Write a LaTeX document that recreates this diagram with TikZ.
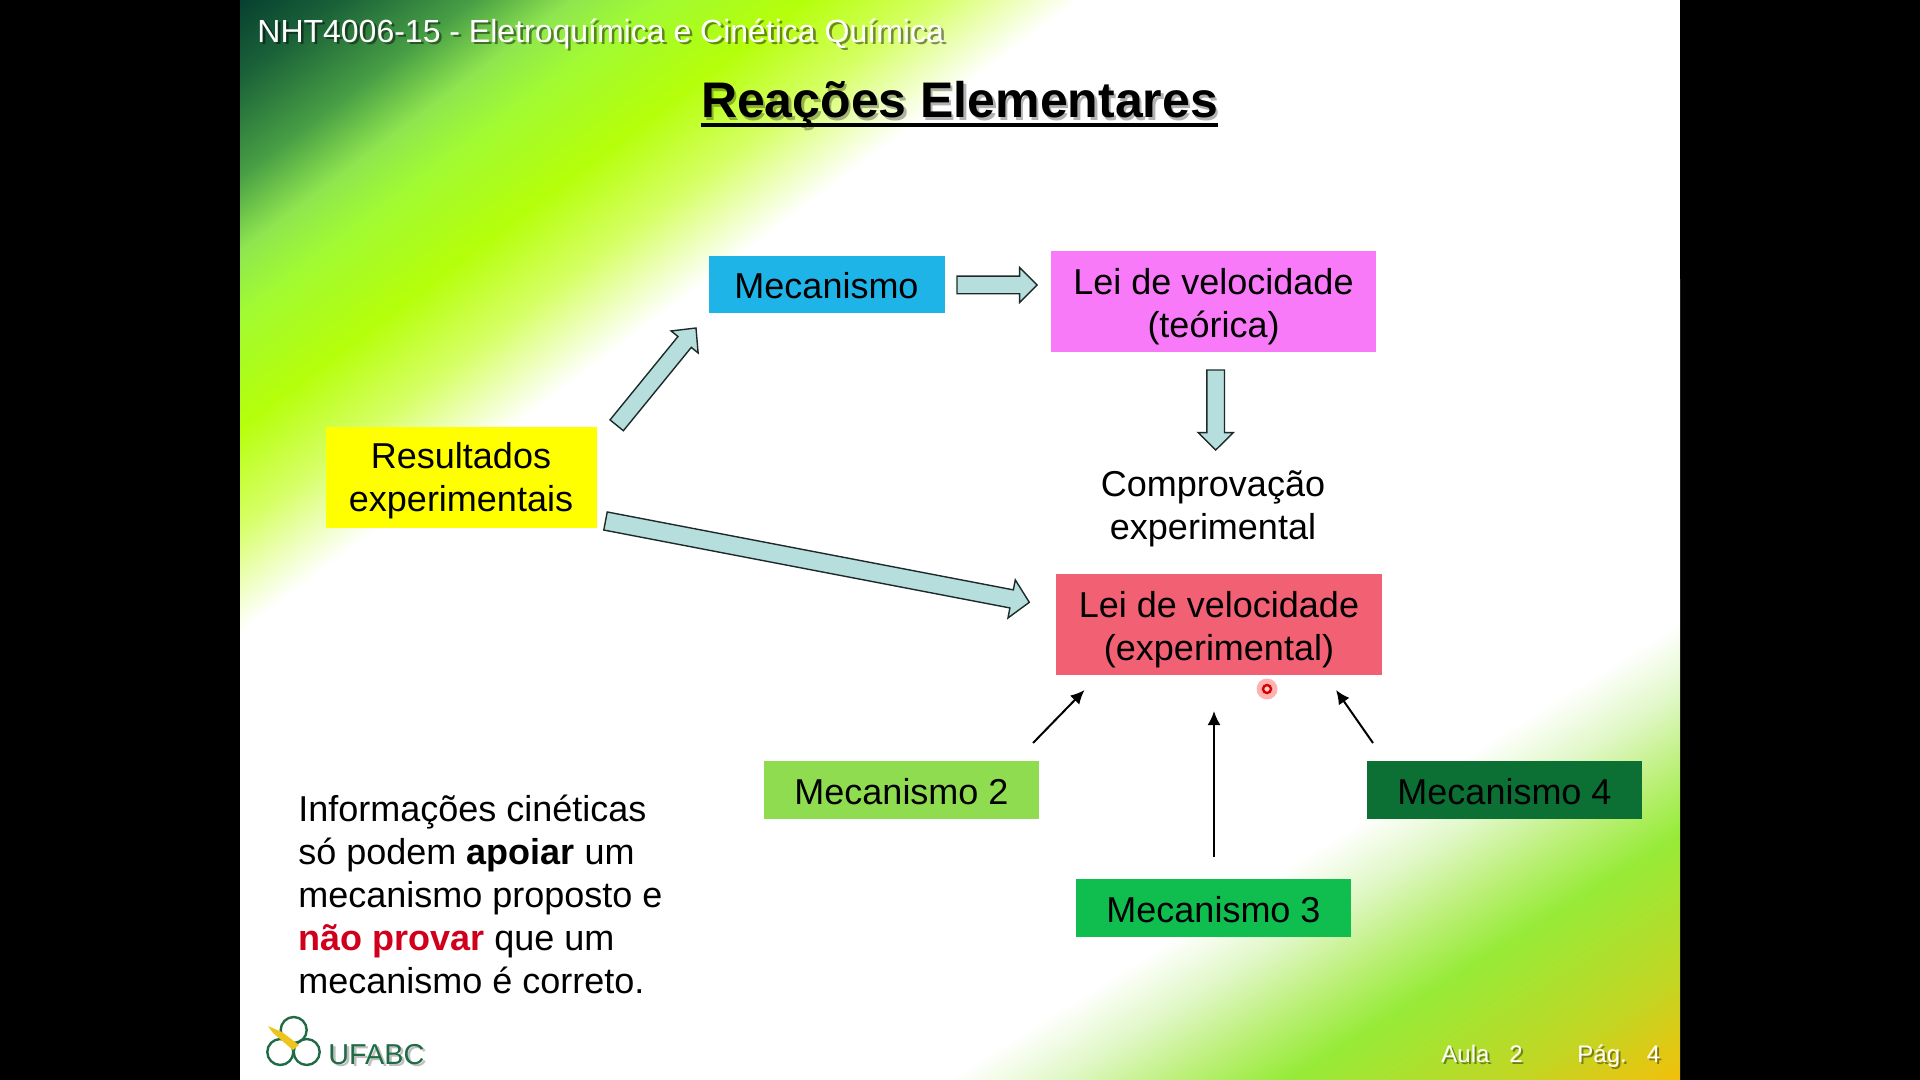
\documentclass[tikz,border=0pt]{standalone}
\usepackage{fontspec}
\setmainfont{Liberation Sans}
\usetikzlibrary{calc,arrows.meta}
\definecolor{arrowfill}{HTML}{B6DEDC}
\definecolor{arrowline}{HTML}{1E2A2A}
\definecolor{boxblue}{HTML}{1FB4E8}
\definecolor{boxpink}{HTML}{F87AF8}
\definecolor{boxyellow}{HTML}{FFFF00}
\definecolor{boxred}{HTML}{F26074}
\definecolor{boxltgreen}{HTML}{90DC50}
\definecolor{boxdkgreen}{HTML}{0C7034}
\definecolor{boxgreen}{HTML}{10BE50}
\definecolor{logogreen}{HTML}{1F6B45}
\definecolor{logoyellow}{HTML}{EFC41C}
\definecolor{emph}{HTML}{D0001C}
% the shaded rectangle maps to 25bp..75bp of each shading
\pgfdeclarehorizontalshading{gradtl}{100bp}{
  rgb(0bp)=(0.03,0.25,0.19);
  rgb(25bp)=(0.03,0.25,0.19);
  rgb(28bp)=(0.10,0.38,0.22);
  rgb(32bp)=(0.28,0.62,0.27);
  rgb(35bp)=(0.56,0.90,0.31);
  rgb(37.5bp)=(0.63,0.98,0.20);
  rgb(42bp)=(0.71,1,0.04);
  rgb(46bp)=(0.84,1,0.40);
  rgb(50.25bp)=(1,1,1);
  rgb(100bp)=(1,1,1)}
\pgfdeclarehorizontalshading{gradbr}{100bp}{
  rgb(0bp)=(1,1,1);
  rgb(39.5bp)=(1,1,1);
  rgb(42.5bp)=(0.88,0.97,0.78);
  rgb(45.5bp)=(0.74,0.94,0.48);
  rgb(48.5bp)=(0.59,0.92,0.22);
  rgb(54.5bp)=(0.76,0.84,0.14);
  rgb(58.95bp)=(0.95,0.75,0.04);
  rgb(100bp)=(0.95,0.75,0.04)}
\tikzset{
  flowbox/.style={rectangle,inner sep=0pt,font=\fontsize{18}{21.5}\selectfont,align=center,text=black},
  blockarrow/.style={draw=arrowline,line width=0.7pt,fill=arrowfill,line join=miter},
  thinarrow/.style={draw=black,line width=1pt,-{Latex[length=7pt,width=6.5pt]}},
  bodytext/.style={font=\fontsize{18}{21.5}\selectfont,align=left,text=black,inner sep=0pt},
  foot/.style={font=\fontsize{12}{14}\selectfont,text=white,inner sep=0pt},
  logoring/.style={draw=logogreen,line width=1.2pt}
}
\newcommand{\softshadow}[3]{\leavevmode\rlap{\pgfsetfillopacity{#2}\kern#1\raisebox{-#1}{\color{black}#3}\pgfsetfillopacity{1}}#3}
\newcommand{\lowfirst}{\rule{0pt}{16.6pt}}
\newcommand{\lowlei}{\rule{0pt}{17.8pt}}
\newcommand{\lowone}{\rule{0pt}{14.2pt}}
% tail, tip, shaft half width, head half width, head length
\newcommand{\blockarr}[5]{%
  \coordinate (hb) at ($(#2)!#5!(#1)$);
  \draw[blockarrow] ($(#1)!#3!90:(#2)$) -- ($(hb)!#3!-90:(#1)$) -- ($(hb)!#4!-90:(#1)$) -- (#2)
    -- ($(hb)!#4!90:(#1)$) -- ($(hb)!#3!90:(#1)$) -- ($(#1)!#3!-90:(#2)$) -- cycle;}
\begin{document}
\begin{tikzpicture}[x=0.5pt,y=-0.5pt]
\useasboundingbox (0,0) rectangle (1920,1080);
\fill[black] (0,0) rectangle (1920,1080);
\fill[white] (240,0) rectangle (1680,1080);
\begin{scope}
  \clip (240,0) -- (1500,0) -- (500,1080) -- (240,1080) -- cycle;
  \begin{scope}[transform canvas={rotate around={-53:(240,0)}}]
    \shade[shading=gradtl] (240,-2000) rectangle (1240,2000);
  \end{scope}
\end{scope}
\begin{scope}
  \clip (1500,0) -- (1680,0) -- (1680,1080) -- (500,1080) -- cycle;
  \begin{scope}[transform canvas={rotate around={-58:(240,0)}}]
    \shade[shading=gradbr] (1240,-2000) rectangle (2240,2000);
  \end{scope}
\end{scope}
% title and header
\node[inner sep=0pt,anchor=west,font=\fontsize{16}{19}\selectfont,text=white] (header) at (257,35)
  {\softshadow{1.3pt}{0.45}{NHT4006-15 - Eletroquímica e Cinética Química}};
\node[inner sep=0pt,anchor=base,font=\bfseries\fontsize{25}{30}\selectfont,text=black] (title) at (959.5,118)
  {\softshadow{1.2pt}{0.3}{Reações Elementares}};
\draw[black,line width=1.8pt] ($(title.base west)+(0,7)$) -- ($(title.base east)+(0,7)$);
% boxes
\node[flowbox,fill=boxblue,minimum width=118pt,minimum height=28.5pt] (mec) at (826.5,284.5) {\lowone Mecanismo};
\node[flowbox,fill=boxpink,minimum width=162.5pt,minimum height=50.5pt] (teor) at (1213.5,301.5) {\lowlei Lei de velocidade\\(teórica)};
\node[flowbox,fill=boxyellow,minimum width=135.5pt,minimum height=50.5pt] (res) at (461,477.5) {\lowfirst Resultados\\experimentais};
\node[flowbox] (comp) at (1213,509) {Comprovação\\experimental};
\node[flowbox,fill=boxred,minimum width=163pt,minimum height=50.5pt] (expe) at (1219,624.5) {\lowlei Lei de velocidade\\(experimental)};
\node[flowbox,fill=boxltgreen,minimum width=137.5pt,minimum height=29pt] (m2) at (901.5,790) {\lowone Mecanismo 2};
\node[flowbox,fill=boxgreen,minimum width=137.5pt,minimum height=29pt] (m3) at (1213.5,908) {\lowone Mecanismo 3};
\node[flowbox,fill=boxdkgreen,minimum width=137.5pt,minimum height=29pt] (m4) at (1504.5,790) {\lowone Mecanismo 4};
% block arrows
\coordinate (a1t) at (616.7,425.3); \coordinate (a1h) at (696,328);
\coordinate (a2t) at (605.5,521);   \coordinate (a2h) at (1029.3,602.3);
\coordinate (a3t) at (957,285);     \coordinate (a3h) at (1037,285);
\coordinate (a4t) at (1215.7,370);  \coordinate (a4h) at (1215.7,450);
\blockarr{a1t}{a1h}{4.3pt}{8.7pt}{9pt}
\blockarr{a2t}{a2h}{4.6pt}{9.7pt}{9pt}
\blockarr{a3t}{a3h}{4.4pt}{8.8pt}{8.7pt}
\blockarr{a4t}{a4h}{4.4pt}{8.8pt}{8.7pt}
% thin arrows
\coordinate (t2) at (1033,743); \coordinate (h2) at (1084.5,690);
\coordinate (t3) at (1214,857); \coordinate (h3) at (1214,711);
\coordinate (t4) at (1373,743); \coordinate (h4) at (1336,690);
\draw[thinarrow] (t2) -- (h2);
\draw[thinarrow] (t3) -- (h3);
\draw[thinarrow] (t4) -- (h4);
% body text
\node[bodytext,anchor=west] (info) at (298,894) {Informações cinéticas\\só podem \textbf{apoiar} um\\mecanismo proposto e\\\textcolor{emph}{\textbf{não provar}} que um\\mecanismo é correto.};
% footer
\node[foot,anchor=base west] (aula) at (1441,1062) {\softshadow{1pt}{0.4}{Aula\hspace{10pt}2}};
\node[foot,anchor=base west] (pag) at (1577,1062) {\softshadow{1pt}{0.4}{Pág.\hspace{10pt}4}};
% logo
\draw[logoring] (293.7,1030) circle (13);
\draw[logoring] (280.3,1052) circle (13);
\draw[logoring] (306.7,1052) circle (13);
\fill[logoyellow] (268,1026) -- (282,1032) -- (299,1045) -- (293,1050) -- (273,1033) -- cycle;
\node[inner sep=0pt,anchor=base west,font=\fontsize{14.4}{17}\selectfont,text=logogreen] (ufabc) at (328,1064) {\softshadow{1.2pt}{0.25}{UFABC}};
% pointer
\fill[red!75!white,opacity=0.4] (1267,689) circle (10.5);
\draw[red!85!black,line width=1.2pt,fill=white!80!red] (1267,689) circle (4);
\end{tikzpicture}
\end{document}
